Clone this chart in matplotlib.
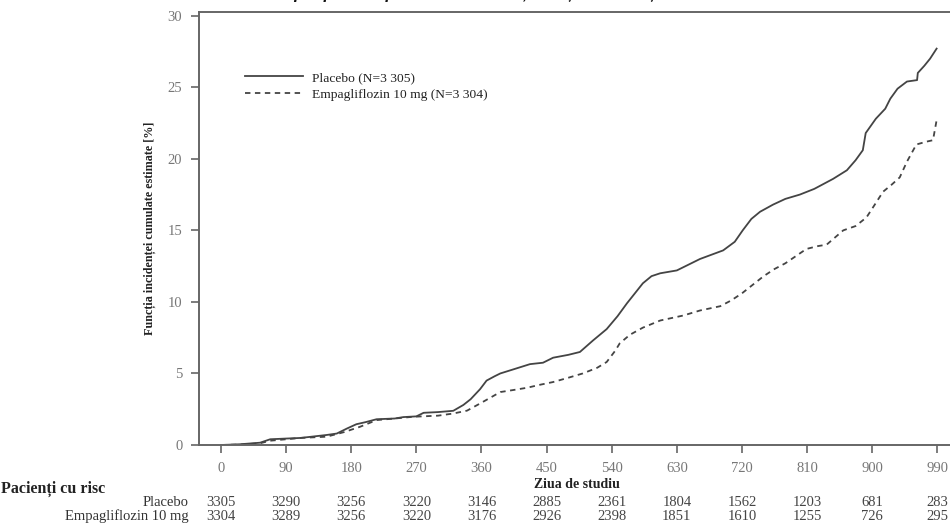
import matplotlib
matplotlib.use("Agg")
import matplotlib.pyplot as plt

# study day vs estimated cumulative incidence [%]
placebo_days = [0, 26, 54, 68, 90, 109, 120, 146, 160, 174, 187, 200, 215, 240, 252,
                270, 280, 300, 321, 335, 345, 358, 367, 378, 386, 405, 427, 445,
                459, 480, 496, 514, 533, 548, 561, 572, 583, 595, 607, 630, 662,
                694, 710, 721, 733, 745, 763, 780, 800, 820, 846, 865, 877, 887,
                891, 905, 918, 925, 935, 948, 962, 963, 972, 980, 989]
placebo_vals = [0.0, 0.05, 0.16, 0.4, 0.45, 0.49, 0.55, 0.7, 0.8, 1.15, 1.45, 1.6,
                1.8, 1.85, 1.95, 2.0, 2.25, 2.3, 2.39, 2.8, 3.2, 3.9, 4.5, 4.8, 5.0,
                5.3, 5.65, 5.75, 6.1, 6.3, 6.5, 7.3, 8.1, 9.0, 9.9, 10.6, 11.3, 11.8,
                12.0, 12.2, 13.0, 13.6, 14.2, 15.0, 15.8, 16.3, 16.8, 17.2, 17.5,
                17.9, 18.6, 19.2, 19.9, 20.6, 21.8, 22.8, 23.5, 24.2, 24.9, 25.4,
                25.5, 26.0, 26.5, 27.0, 27.7]
empa_days = [0, 26, 54, 68, 90, 109, 146, 170, 192, 215, 240, 265, 300, 321, 340,
             358, 372, 386, 405, 423, 440, 459, 480, 500, 520, 533, 545, 551, 565,
             583, 607, 639, 662, 690, 705, 720, 735, 750, 765, 780, 809, 825, 837,
             860, 877, 892, 901, 915, 927, 938, 948, 961, 975, 984, 989]
empa_vals = [0.0, 0.03, 0.12, 0.3, 0.4, 0.49, 0.58, 0.9, 1.27, 1.74, 1.85, 1.97,
             2.05, 2.2, 2.4, 2.9, 3.3, 3.7, 3.85, 4.0, 4.2, 4.4, 4.7, 5.0, 5.4, 5.8,
             6.6, 7.1, 7.7, 8.2, 8.7, 9.05, 9.4, 9.7, 10.1, 10.6, 11.2, 11.8, 12.3,
             12.7, 13.7, 13.9, 14.0, 15.0, 15.3, 15.9, 16.6, 17.7, 18.2, 18.7, 19.8,
             21.0, 21.2, 21.3, 22.7]

tick_days = [0, 90, 180, 270, 360, 450, 540, 630, 720, 810, 900, 990]
at_risk_placebo = [3305, 3290, 3256, 3220, 3146, 2885, 2361, 1804, 1562, 1203, 681, 283]
at_risk_empa = [3304, 3289, 3256, 3220, 3176, 2926, 2398, 1851, 1610, 1255, 726, 295]

label_placebo = "Placebo (N=3 305)"
label_empa = "Empagliflozin 10 mg (N=3 304)"

serif = "Liberation Serif"
line_col = "#444444"
axis_col = "#666666"
tick_col = "#777777"

fig = plt.figure(figsize=(9.5, 5.25), dpi=100)
ax = fig.add_axes([0.2095, 0.1524, 0.7905, 0.8253])

ax.plot(placebo_days, placebo_vals, color=line_col, lw=1.3, label=label_placebo)
ax.plot(empa_days, empa_vals, color=line_col, lw=1.3, ls=(0, (3, 2.5)), label=label_empa)

ax.set_xlim(-30.4, 1007.5)
ax.set_ylim(0, 30.28)
ax.set_xticks(tick_days)
ax.set_yticks(range(0, 31, 5))

for side in ("left", "bottom", "top"):
    ax.spines[side].set_color(axis_col)
    ax.spines[side].set_linewidth(1.4)
ax.spines["right"].set_visible(False)
ax.tick_params(direction="out", length=6, width=1.2, color=axis_col,
               labelcolor=tick_col, labelsize=10.5, pad=6)
for lbl in ax.get_xticklabels() + ax.get_yticklabels():
    lbl.set_fontfamily(serif)

ax.set_ylabel("Funcția incidenței cumulate estimate [%]", family=serif,
              fontweight="bold", fontsize=8.7, labelpad=8, color="#222222")

leg = ax.legend(loc="upper left", bbox_to_anchor=(0.045, 0.89), frameon=False,
                prop={"family": serif, "size": 9.7}, handlelength=4.3,
                handletextpad=0.7, labelspacing=0.35)
for t in leg.get_texts():
    t.set_color("#222222")

# x axis label and risk table
fig.text(577 / 950, 1 - 484 / 525, "Ziua de studiu", family=serif, fontweight="bold",
         fontsize=10, ha="center", va="center", color="#222222")
fig.text(1 / 950, 1 - 489 / 525, "Pacienți cu risc", family=serif, fontweight="bold",
         fontsize=11.5, ha="left", va="center", color="#222222")
for row_y, name, counts in ((503, "Placebo", at_risk_placebo),
                            (516, "Empagliflozin 10 mg", at_risk_empa)):
    fig.text(189 / 950, 1 - row_y / 525, name, family=serif, fontsize=10.5,
             ha="right", va="center", color="#333333")
    for d, n in zip(tick_days, counts):
        x_fig = fig.transFigure.inverted().transform(ax.transData.transform((d, 0)))[0]
        fig.text(x_fig, 1 - row_y / 525, str(n), family=serif, fontsize=10.5,
                 ha="center", va="center", color="#444444")

# title clipped by the top edge of the page, only descenders show
fig.text(0.57, 1 + 1.5 / 525,
         "Timpul până la primul eveniment, funcția incidenței cumulate estimate",
         family="Liberation Sans", fontweight="bold", style="italic", fontsize=12,
         ha="center", va="baseline", color="#111111")

fig.savefig("out.png", dpi=100)
